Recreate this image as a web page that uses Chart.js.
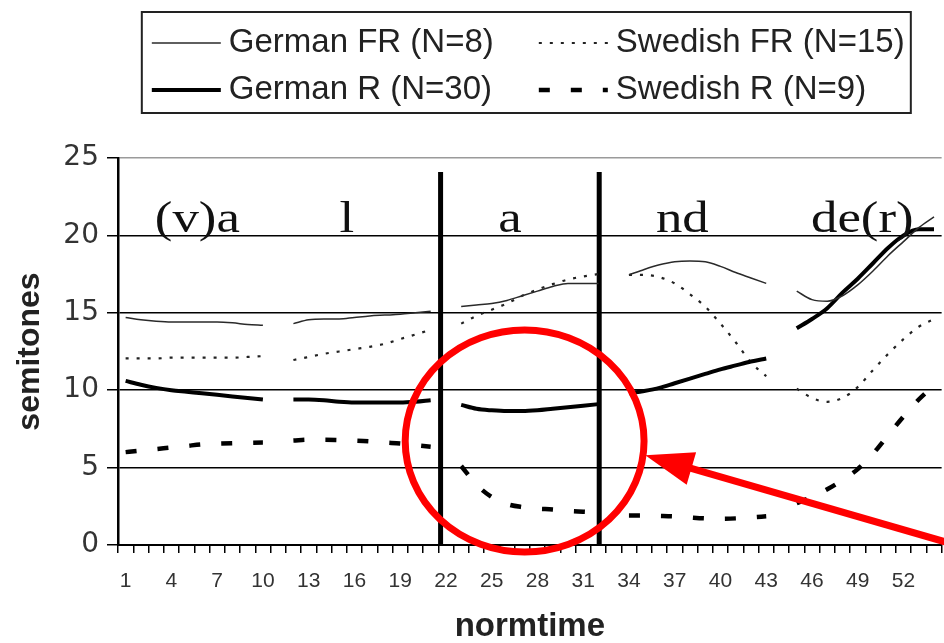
<!DOCTYPE html>
<html>
<head>
<meta charset="utf-8">
<script src="https://cdn.jsdelivr.net/npm/chart.js@4.4.0/dist/chart.umd.min.js"></script>
<style>
  html, body { margin: 0; padding: 0; background: #fff; overflow: hidden; }
  #wrap { width: 944px; height: 643px; overflow: hidden; }
</style>
</head>
<body>
<div id="wrap"><canvas id="c" width="950" height="643"></canvas></div>
<script>
// normalised time points (categories)
const normtime = ['1','2','3','4','5','6','7','8','9','10','11','12','13','14','15','16','17','18',
  '19','20','21','22','23','24','25','26','27','28','29','30','31','32','33','34','35','36',
  '37','38','39','40','41','42','43','44','45','46','47','48','49','50','51','52','53','54'];
// labelled positions on the x axis
const tickLabels = ['1','4','7','10','13','16','19','22','25','28','31','34','37','40','43','46','49','52'];

// F0 in semitones, one value per normtime point; null = syllable break
const germanFR = [14.7,14.55,14.45,14.4,14.4,14.4,14.4,14.35,14.25,14.2, null,
  14.3,14.55,14.6,14.6,14.7,14.8,14.85,14.9,15.0,15.1, null,
  15.4,15.5,15.6,15.8,16.1,16.4,16.7,16.9,16.9,16.9, null,
  17.45,17.8,18.1,18.3,18.35,18.3,18.0,17.6,17.25,16.9, null,
  16.4,15.85,15.75,16.1,16.8,17.7,18.7,19.6,20.5,21.2];
const germanR = [10.6,10.35,10.15,10.0,9.9,9.8,9.7,9.6,9.5,9.4, null,
  9.4,9.4,9.35,9.25,9.2,9.2,9.2,9.2,9.25,9.35, null,
  9.05,8.8,8.7,8.65,8.65,8.7,8.8,8.9,9.0,9.1, null,
  9.8,9.95,10.15,10.45,10.75,11.05,11.35,11.6,11.85,12.05, null,
  14.0,14.6,15.3,16.3,17.2,18.2,19.2,20.0,20.4,20.4];
const swedishFR = [12.05,12.05,12.05,12.1,12.1,12.1,12.1,12.1,12.15,12.2, null,
  11.95,12.15,12.35,12.5,12.65,12.8,13.0,13.3,13.6,13.9, null,
  14.3,14.8,15.2,15.6,16.1,16.5,16.85,17.15,17.35,17.5, null,
  17.45,17.45,17.3,16.9,16.2,15.4,14.3,13.1,11.8,10.9, null,
  10.1,9.5,9.25,9.5,10.2,11.3,12.35,13.3,14.1,14.6];
const swedishR = [6.0,6.1,6.2,6.3,6.4,6.5,6.55,6.58,6.6,6.62, null,
  6.75,6.8,6.8,6.78,6.75,6.7,6.62,6.55,6.45,6.35, null,
  5.1,3.9,3.1,2.65,2.45,2.35,2.3,2.2,2.15,2.1, null,
  1.9,1.9,1.88,1.85,1.78,1.72,1.7,1.72,1.78,1.85, null,
  2.7,3.1,3.6,4.2,4.9,5.9,7.1,8.3,9.4,10.3];

const seriesNames = ['German FR (N=8)', 'German R (N=30)', 'Swedish FR (N=15)', 'Swedish R (N=9)'];

// syllable labels and where they sit (normtime, semitones)
const syllables = ['(v)a', 'l', 'a', 'nd', 'de(r)'];
const syllableAt = [5.7, 15.5, 26.2, 37.5, 49.3];
const syllableLevel = 20.25;

// syllable boundaries marked with heavy vertical rules (normtime)
const boundaries = [21.65, 32.05];
const boundaryTop = 24.1;

// highlight: ellipse round the stressed vowel and a pointer towards it
const highlight = { at: 27.16, level: 6.72, halfSpan: 7.83, halfRange: 7.17 };
const pointer = { tipAt: 35.07, tipLevel: 5.8, tailAt: 56.5, tailLevel: -0.3 };

// category number (1-based, may be fractional) to pixel
function xPix(chart, t) { return chart.scales.x.getPixelForValue(t - 1); }
function yPix(chart, v) { return chart.scales.y.getPixelForValue(v); }

const boundaryRules = {
  id: 'boundaryRules',
  beforeDatasetsDraw(chart) {
    const ctx = chart.ctx;
    ctx.save();
    ctx.strokeStyle = '#000';
    ctx.lineWidth = 5;
    boundaries.forEach(b => {
      const x = xPix(chart, b);
      ctx.beginPath();
      ctx.moveTo(x, yPix(chart, boundaryTop));
      ctx.lineTo(x, yPix(chart, 0));
      ctx.stroke();
    });
    ctx.restore();
  }
};

const syllableText = {
  id: 'syllableText',
  afterDatasetsDraw(chart) {
    const ctx = chart.ctx;
    ctx.save();
    ctx.font = '44px "Liberation Serif", "Times New Roman", serif';
    ctx.fillStyle = '#111';
    ctx.textAlign = 'center';
    ctx.textBaseline = 'alphabetic';
    syllables.forEach((s, i) => {
      ctx.save();
      ctx.translate(xPix(chart, syllableAt[i]), yPix(chart, syllableLevel));
      ctx.scale(1.2, 1);
      ctx.fillText(s, 0, 0);
      ctx.restore();
    });
    ctx.restore();
  }
};

const legendBox = {
  id: 'legendBox',
  afterDraw(chart) {
    const ctx = chart.ctx;
    const area = chart.chartArea;
    const cx = (area.left + area.right) / 2;
    const x0 = cx - 388, y0 = 12, w = 769, h = 101;
    ctx.save();
    ctx.strokeStyle = '#222';
    ctx.lineWidth = 2;
    ctx.strokeRect(x0, y0, w, h);
    const ds = chart.data.datasets;
    const layout = [[0, 1], [2, 3]]; // columns, each listing its rows
    ctx.font = '33px "Liberation Sans", Arial, sans-serif';
    ctx.fillStyle = '#222';
    ctx.textBaseline = 'middle';
    ctx.textAlign = 'left';
    layout.forEach((col, ci) => {
      const sx = x0 + 10 + ci * 387;
      col.forEach((di, ri) => {
        const cy = y0 + 31 + ri * 47;
        const d = ds[di];
        ctx.save();
        ctx.strokeStyle = d.borderColor;
        ctx.lineWidth = d.borderWidth;
        ctx.setLineDash(d.borderDash || []);
        ctx.beginPath();
        ctx.moveTo(sx, cy);
        ctx.lineTo(sx + 69, cy);
        ctx.stroke();
        ctx.restore();
        ctx.fillText(d.label, sx + 77, cy);
      });
    });
    ctx.restore();
  }
};

const highlightMarks = {
  id: 'highlightMarks',
  afterDraw(chart) {
    const ctx = chart.ctx;
    const unitX = xPix(chart, 2) - xPix(chart, 1);
    const unitY = yPix(chart, 0) - yPix(chart, 1);
    ctx.save();
    ctx.strokeStyle = '#ff0000';
    ctx.fillStyle = '#ff0000';
    ctx.lineWidth = 7;
    ctx.beginPath();
    ctx.ellipse(xPix(chart, highlight.at), yPix(chart, highlight.level),
      highlight.halfSpan * unitX, highlight.halfRange * unitY, 0, 0, Math.PI * 2);
    ctx.stroke();

    const tx = xPix(chart, pointer.tipAt), ty = yPix(chart, pointer.tipLevel);
    const ex = xPix(chart, pointer.tailAt), ey = yPix(chart, pointer.tailLevel);
    const len = Math.hypot(ex - tx, ey - ty);
    const ux = (ex - tx) / len, uy = (ey - ty) / len;
    const headLen = 48, headHalf = 17;
    const bx = tx + ux * headLen, by = ty + uy * headLen;
    ctx.beginPath();
    ctx.moveTo(bx - ux * 2, by - uy * 2);
    ctx.lineTo(ex, ey);
    ctx.stroke();
    ctx.beginPath();
    ctx.moveTo(tx, ty);
    ctx.lineTo(bx - uy * headHalf, by + ux * headHalf);
    ctx.lineTo(bx + uy * headHalf, by - ux * headHalf);
    ctx.closePath();
    ctx.fill();
    ctx.restore();
  }
};

new Chart(document.getElementById('c'), {
  type: 'line',
  data: {
    labels: normtime,
    datasets: [
      { label: seriesNames[0], data: germanFR, borderColor: '#2a2a2a', borderWidth: 1.5, borderDash: [] },
      { label: seriesNames[1], data: germanR, borderColor: '#000', borderWidth: 4, borderDash: [] },
      { label: seriesNames[2], data: swedishFR, borderColor: '#222', borderWidth: 2.2, borderDash: [3, 8] },
      { label: seriesNames[3], data: swedishR, borderColor: '#000', borderWidth: 4.5, borderDash: [11, 21] }
    ]
  },
  options: {
    responsive: false,
    animation: false,
    events: [],
    spanGaps: false,
    layout: { padding: { top: 158, left: 0, right: 0, bottom: 0 } },
    elements: {
      point: { radius: 0 },
      line: { cubicInterpolationMode: 'monotone', fill: false, borderCapStyle: 'butt' }
    },
    plugins: { legend: { display: false }, tooltip: { enabled: false } },
    scales: {
      x: {
        type: 'category',
        offset: true,
        grid: { offset: true, drawOnChartArea: false, drawTicks: true, tickLength: 8, color: '#000', lineWidth: 1.5 },
        border: { display: true, color: '#000', width: 2 },
        ticks: {
          autoSkip: false, maxRotation: 0, minRotation: 0, padding: 16, color: '#333',
          font: { family: '"Liberation Sans", Arial, sans-serif', size: 21 },
          callback(v) { const l = this.getLabelForValue(v); return tickLabels.includes(l) ? l : ''; }
        },
        title: {
          display: true, text: 'normtime', color: '#222',
          font: { family: '"Liberation Sans", Arial, sans-serif', size: 33, weight: 'bold', lineHeight: 1 },
          padding: { top: 0, bottom: 0 }
        },
        afterFit(s) { s.height = 98; }
      },
      y: {
        min: 0, max: 25,
        ticks: { stepSize: 5, padding: 8, color: '#333', font: { family: '"DejaVu Sans", sans-serif', size: 28 } },
        grid: {
          color: c => (c.tick && c.tick.value === 25) ? '#9a9a9a' : '#000',
          tickColor: '#000', lineWidth: 1.5, tickLength: 11, drawTicks: true
        },
        border: { display: true, color: '#000', width: 2.5 },
        title: {
          display: true, text: 'semitones', color: '#222',
          font: { family: '"Liberation Sans", Arial, sans-serif', size: 32, weight: 'bold', lineHeight: 1 },
          padding: { top: 14, bottom: 0 }
        },
        afterFit(s) { s.width = 118; }
      }
    }
  },
  plugins: [boundaryRules, syllableText, legendBox, highlightMarks]
});
</script>
</body>
</html>
